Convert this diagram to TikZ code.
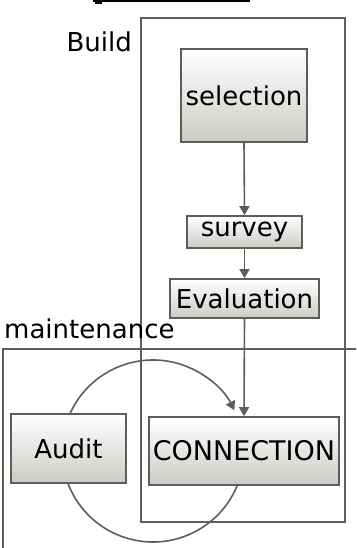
\documentclass[tikz,border=0pt]{standalone}
\usepackage{fontspec}
\setmainfont{DejaVu Sans}
\usetikzlibrary{arrows.meta}
\definecolor{lgray}{HTML}{5E5E58}
\definecolor{boxbot}{HTML}{CBCBC6}
\tikzset{
  frame/.style={draw=lgray, line width=1.7pt},
  box/.style={draw=lgray, line width=1.7pt, rectangle, inner sep=0pt, top color=white, bottom color=boxbot, font=\fontsize{26}{30}\selectfont, text=black},
  conn/.style={draw=lgray, line width=1.6pt, -{Triangle[length=9pt,width=10pt]}, color=lgray},
  lbl/.style={font=\fontsize{26}{30}\selectfont, inner sep=0pt, text=black}
}
\begin{document}
\begin{tikzpicture}[x=1pt,y=-1pt]
\useasboundingbox (0,0) rectangle (356,548);
% cut title underline
\draw[black, line width=2pt] (93,1) -- (250,1);
\fill[black] (95,0) rectangle (102,4);
% frames
\draw[frame] (141,18) rectangle (345,522);
\draw[frame] (3,548) -- (3,349) -- (356,349);
\node[lbl, anchor=base east] (build) at (132,52) {Build};
\node[lbl, anchor=base west] (maint) at (4,338) {maintenance};
% circle
\coordinate (cc) at (153,451);
\draw[conn] ([shift={(20:91)}]cc) arc[start angle=20, end angle=333.4, radius=91];
% boxes
\node[box, minimum width=126pt, minimum height=93pt] (sel) at (244,95.5) {selection};
\node[box, minimum width=115pt, minimum height=32pt] (sur) at (244.5,232) {survey};
\node[box, minimum width=149pt, minimum height=39pt] (eva) at (244.5,298.5) {Evaluation};
\node[box, minimum width=115pt, minimum height=69pt] (aud) at (68.5,448.5) {Audit};
\node[box, minimum width=190pt, minimum height=68pt, font=\fontsize{27}{30}\selectfont] (con) at (244,451) {CONNECTION};
% connectors
\draw[conn] (sel.south) -- (sur.north);
\draw[conn] (sur.south) -- (eva.north);
\draw[conn] (eva.south) -- (con.north);
\end{tikzpicture}
\end{document}
